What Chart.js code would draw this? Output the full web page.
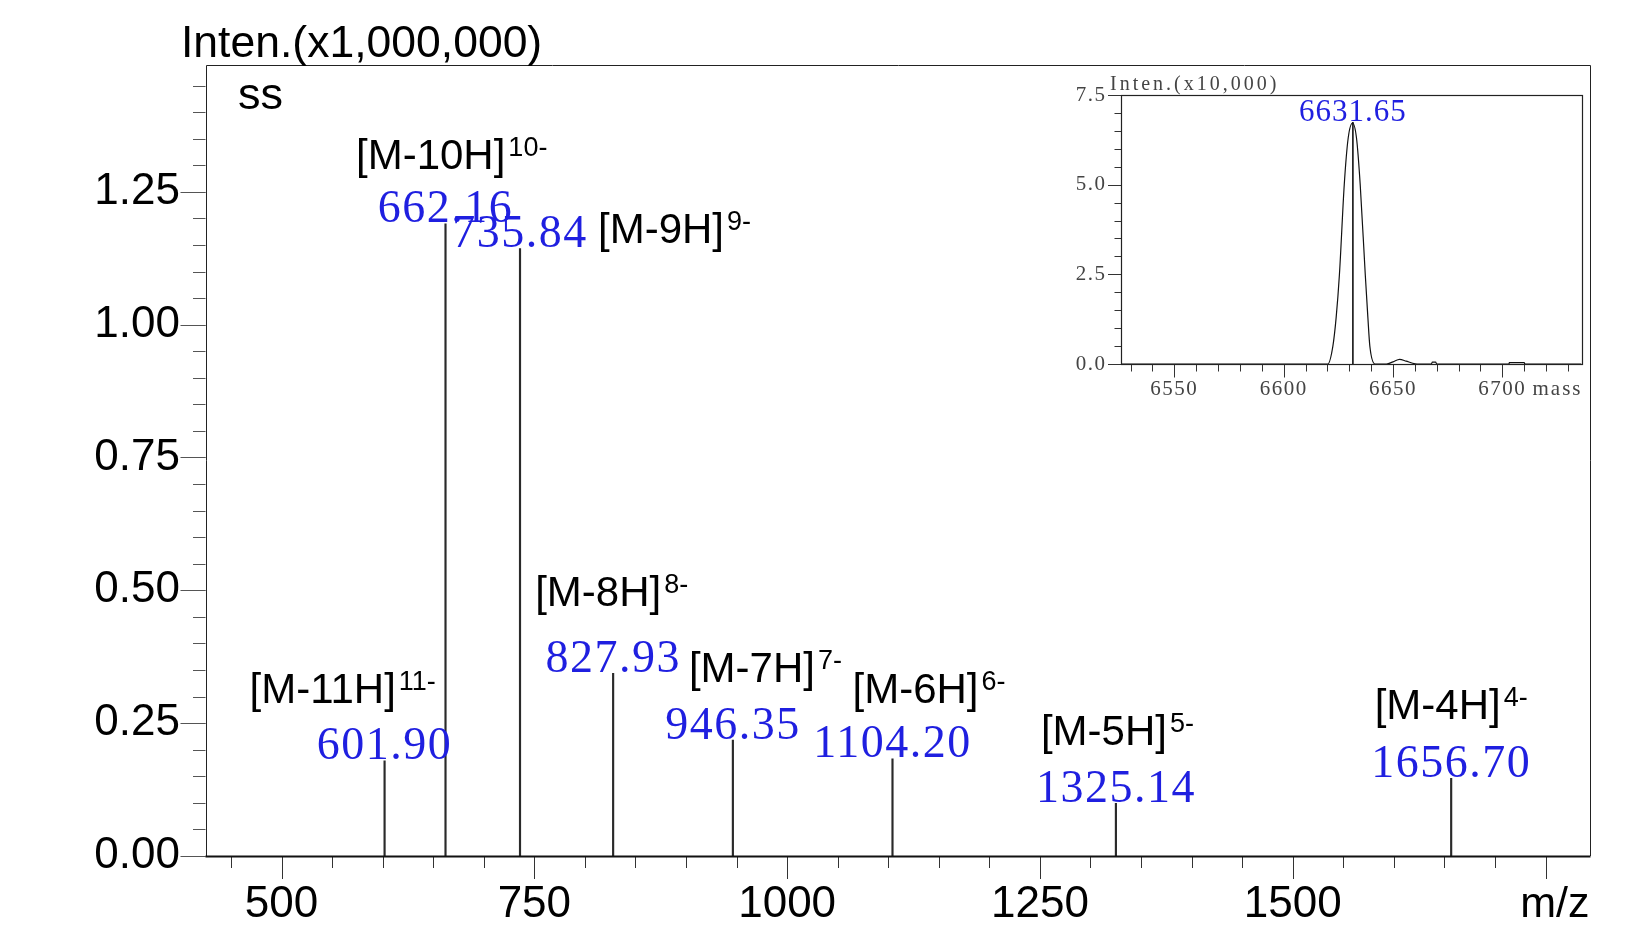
<!DOCTYPE html>
<html>
<head>
<meta charset="utf-8">
<script src="https://cdn.jsdelivr.net/npm/chart.js@4.4.1/dist/chart.umd.min.js"></script>
<style>
  html, body { margin: 0; padding: 0; background: #fff; }
  #wrap { position: relative; width: 1641px; height: 933px; }
  #spectrum { position: absolute; left: 0; top: 0; }
  #inset { position: absolute; left: 1000px; top: 60px; }
</style>
</head>
<body>
<div id="wrap">
  <canvas id="spectrum" width="1641" height="933"></canvas>
  <canvas id="inset" width="600" height="350"></canvas>
</div>
<script>
// Picos del espectro principal (m/z, intensidad en x1,000,000)
const peakMz = [601.90, 662.16, 735.84, 827.93, 946.35, 1104.20, 1325.14, 1656.70];
const peakIntensity = [0.179, 1.190, 1.143, 0.344, 0.218, 0.183, 0.099, 0.146];
const peakText = ['601.90', '662.16', '735.84', '827.93', '946.35', '1104.20', '1325.14', '1656.70'];
const ionText = ['[M-11H]', '[M-10H]', '[M-9H]', '[M-8H]', '[M-7H]', '[M-6H]', '[M-5H]', '[M-4H]'];
const chargeText = ['11-', '10-', '9-', '8-', '7-', '6-', '5-', '4-'];

// Ejes del espectro principal
const xTickValues = [500, 750, 1000, 1250, 1500];
const xTickLabels = ['500', '750', '1000', '1250', '1500'];
const yTickValues = [0, 0.25, 0.5, 0.75, 1.0, 1.25];
const yTickLabels = ['0.00', '0.25', '0.50', '0.75', '1.00', '1.25'];

// Recuadro: espectro deconvolucionado (masa, intensidad en x10,000)
const insetMass = [6525.6, 6620.2, 6622.5, 6624.0, 6625.5, 6627.7, 6629.5, 6631.5, 6633.3, 6635.0, 6637.3, 6638.5, 6639.4, 6641.8,
                   6647.0, 6650.0, 6653.0, 6656.0, 6659.0, 6661.0, 6667.5, 6668.0, 6669.5, 6670.0, 6703.0, 6703.2, 6710.0, 6710.3, 6736.2];
const insetIntensity = [0, 0, 0.5, 1.3, 2.5, 5.0, 6.3, 6.72, 6.3, 5.0, 2.5, 1.3, 0.5, 0,
                        0, 0.06, 0.13, 0.08, 0.02, 0, 0, 0.05, 0.05, 0, 0, 0.04, 0.04, 0, 0];
const insetPeakMass = 6631.65;
const insetPeakIntensity = 6.75;
const insetPeakText = '6631.65';
const insetXTickValues = [6550, 6600, 6650, 6700];
const insetXTickLabels = ['6550', '6600', '6650', '6700'];
const insetYTickValues = [0, 2.5, 5.0, 7.5];
const insetYTickLabels = ['0.0', '2.5', '5.0', '7.5'];

const SANS = '"Liberation Sans", Arial, sans-serif';
const SERIF = '"Liberation Serif", "Times New Roman", serif';
const BLUE = '#1f1fe0';

// Marcas de eje dibujadas a mano (mayores y menores)
function tickMarks(ctx, scale, values, len, color) {
    const area = scale.chart.chartArea;
    ctx.save();
    ctx.strokeStyle = color;
    ctx.lineWidth = 1;
    ctx.beginPath();
    values.forEach(v => {
        const p = Math.round(scale.getPixelForValue(v)) + 0.5;
        if (scale.isHorizontal()) {
            ctx.moveTo(p, area.bottom + 1);
            ctx.lineTo(p, area.bottom + 1 + len);
        } else {
            ctx.moveTo(area.left - len, p);
            ctx.lineTo(area.left, p);
        }
    });
    ctx.stroke();
    ctx.restore();
}

function steps(from, to, step) {
    const out = [];
    for (let i = 0; from + i * step <= to + 1e-9; i++) out.push(Math.round((from + i * step) * 1000) / 1000);
    return out;
}

const spectrumDecor = {
    id: 'spectrumDecor',
    afterDraw(chart) {
        const { ctx, chartArea: a, scales: { x, y } } = chart;

        // Marcas de los ejes
        tickMarks(ctx, y, steps(0, 1.45, 0.05), 12.5, '#555');
        tickMarks(ctx, y, yTickValues, 25, '#555');
        tickMarks(ctx, x, steps(450, 1750, 50), 11, '#333');
        tickMarks(ctx, x, steps(500, 1750, 250), 22, '#333');

        // Marco del gráfico
        ctx.save();
        ctx.strokeStyle = '#222';
        ctx.lineWidth = 1;
        ctx.beginPath();
        ctx.moveTo(Math.round(a.left) + 0.5, Math.round(a.bottom));
        ctx.lineTo(Math.round(a.left) + 0.5, Math.round(a.top) + 0.5);
        ctx.lineTo(Math.round(a.right) + 0.5, Math.round(a.top) + 0.5);
        ctx.lineTo(Math.round(a.right) + 0.5, Math.round(a.bottom));
        ctx.stroke();
        ctx.lineWidth = 2.2;
        ctx.strokeStyle = '#111';
        ctx.beginPath();
        ctx.moveTo(a.left, Math.round(a.bottom) + 0.5);
        ctx.lineTo(a.right + 1, Math.round(a.bottom) + 0.5);
        ctx.stroke();

        // Títulos
        ctx.fillStyle = '#000';
        ctx.textAlign = 'left';
        ctx.textBaseline = 'alphabetic';
        ctx.font = '44.5px ' + SANS;
        ctx.fillText('Inten.(x1,000,000)', 181, 57);
        ctx.font = '45px ' + SANS;
        ctx.fillText('ss', 238, 109);
        ctx.font = '43px ' + SANS;
        ctx.textAlign = 'right';
        ctx.textBaseline = 'middle';
        ctx.fillText('m/z', a.right, 905);

        // Etiquetas de los picos
        const ionOffset = [[-135, -58], [-89.5, -54.5], [78, -6], [-78, -67], [-44, -58], [-40, -56], [-75, -58], [-76.5, -59]];
        peakMz.forEach((mz, i) => {
            const px = x.getPixelForValue(mz);
            const top = y.getPixelForValue(peakIntensity[i]);

            ctx.fillStyle = BLUE;
            ctx.font = '46px ' + SERIF;
            ctx.letterSpacing = '1.5px';
            ctx.textAlign = 'center';
            ctx.textBaseline = 'alphabetic';
            ctx.fillText(peakText[i], px, top - 1.5);
            ctx.letterSpacing = '0px';

            const lx = px + ionOffset[i][0];
            const ly = top + ionOffset[i][1];
            ctx.fillStyle = '#000';
            ctx.textAlign = 'left';
            ctx.font = '42px ' + SANS;
            ctx.fillText(ionText[i], lx, ly);
            const w = ctx.measureText(ionText[i]).width;
            ctx.font = '27px ' + SANS;
            ctx.fillText(chargeText[i], lx + w + 3, ly - 13);
        });
        ctx.restore();
    }
};

new Chart(document.getElementById('spectrum'), {
    type: 'bar',
    data: {
        datasets: [{
            data: peakMz.map((mz, i) => ({ x: mz, y: peakIntensity[i] })),
            backgroundColor: '#2a2a2a',
            barThickness: 1.5
        }]
    },
    options: {
        responsive: false,
        animation: false,
        layout: { padding: { top: 65, right: 51.5, bottom: 0, left: 0 } },
        plugins: { legend: { display: false }, tooltip: { enabled: false } },
        scales: {
            x: {
                type: 'linear',
                min: 424.8,
                max: 1793.5,
                offset: false,
                grid: { display: false, drawTicks: false },
                border: { display: false },
                afterBuildTicks: s => { s.ticks = xTickValues.map(v => ({ value: v })); },
                afterFit: s => { s.height = 77; },
                ticks: {
                    callback: (v, i) => xTickLabels[i],
                    autoSkip: false,
                    maxRotation: 0,
                    padding: 22,
                    color: '#000',
                    font: { family: SANS, size: 44 }
                }
            },
            y: {
                type: 'linear',
                min: 0,
                max: 1.4887,
                grid: { display: false, drawTicks: false },
                border: { display: false },
                afterBuildTicks: s => { s.ticks = yTickValues.map(v => ({ value: v })); },
                afterFit: s => { s.width = 205.5; },
                ticks: {
                    callback: (v, i) => yTickLabels[i],
                    autoSkip: false,
                    padding: 25.5,
                    color: '#000',
                    font: { family: SANS, size: 44 }
                }
            }
        }
    },
    plugins: [spectrumDecor]
});

// Recuadro con la masa deconvolucionada
const insetDecor = {
    id: 'insetDecor',
    beforeDraw(chart) {
        chart.ctx.letterSpacing = '1.5px';
    },
    afterDraw(chart) {
        const { ctx, chartArea: a, scales: { x, y } } = chart;
        ctx.letterSpacing = '0px';
        tickMarks(ctx, y, steps(0, 7.5, 0.5), 6.5, '#333');
        tickMarks(ctx, y, insetYTickValues, 13, '#333');
        tickMarks(ctx, x, steps(6530, 6730, 10), 6.5, '#333');
        tickMarks(ctx, x, steps(6550, 6700, 50), 12.5, '#333');

        ctx.save();
        ctx.strokeStyle = '#222';
        ctx.lineWidth = 1.2;
        ctx.strokeRect(Math.round(a.left) + 0.5, Math.round(a.top) + 0.5,
                       Math.round(a.right - a.left), Math.round(a.bottom - a.top));

        ctx.fillStyle = '#444';
        ctx.textBaseline = 'middle';
        ctx.textAlign = 'left';
        ctx.font = '20px ' + SERIF;
        ctx.letterSpacing = '3px';
        ctx.fillText('Inten.(x10,000)', 110, 25);
        ctx.letterSpacing = '2px';
        ctx.textAlign = 'right';
        ctx.font = '21px ' + SERIF;
        ctx.fillText('mass', a.right + 1, 329);

        ctx.fillStyle = BLUE;
        ctx.textAlign = 'center';
        ctx.textBaseline = 'alphabetic';
        ctx.font = '31px ' + SERIF;
        ctx.letterSpacing = '1px';
        ctx.fillText(insetPeakText, x.getPixelForValue(insetPeakMass), y.getPixelForValue(insetPeakIntensity) - 0.5);
        ctx.letterSpacing = '0px';
        ctx.restore();
    }
};

new Chart(document.getElementById('inset'), {
    type: 'line',
    data: {
        datasets: [{
            data: insetMass.map((m, i) => ({ x: m, y: insetIntensity[i] })),
            borderColor: '#111',
            borderWidth: 1.2,
            pointRadius: 0,
            cubicInterpolationMode: 'monotone'
        }, {
            data: [{ x: insetPeakMass, y: 0 }, { x: insetPeakMass, y: insetPeakIntensity }],
            borderColor: '#111',
            borderWidth: 1.6,
            pointRadius: 0
        }]
    },
    options: {
        responsive: false,
        animation: false,
        layout: { padding: { top: 35, right: 18.5, bottom: 0, left: 0 } },
        plugins: { legend: { display: false }, tooltip: { enabled: false } },
        scales: {
            x: {
                type: 'linear',
                min: 6525.6,
                max: 6736.2,
                grid: { display: false, drawTicks: false },
                border: { display: false },
                afterBuildTicks: s => { s.ticks = insetXTickValues.map(v => ({ value: v })); },
                afterFit: s => { s.height = 46; },
                ticks: {
                    callback: (v, i) => insetXTickLabels[i],
                    autoSkip: false,
                    maxRotation: 0,
                    padding: 12.5,
                    color: '#444',
                    font: { family: SERIF, size: 21 }
                }
            },
            y: {
                type: 'linear',
                min: 0,
                max: 7.5,
                grid: { display: false, drawTicks: false },
                border: { display: false },
                afterBuildTicks: s => { s.ticks = insetYTickValues.map(v => ({ value: v })); },
                afterFit: s => { s.width = 121; },
                ticks: {
                    callback: (v, i) => insetYTickLabels[i],
                    autoSkip: false,
                    padding: 14.5,
                    color: '#444',
                    font: { family: SERIF, size: 21 }
                }
            }
        }
    },
    plugins: [insetDecor]
});
</script>
</body>
</html>
